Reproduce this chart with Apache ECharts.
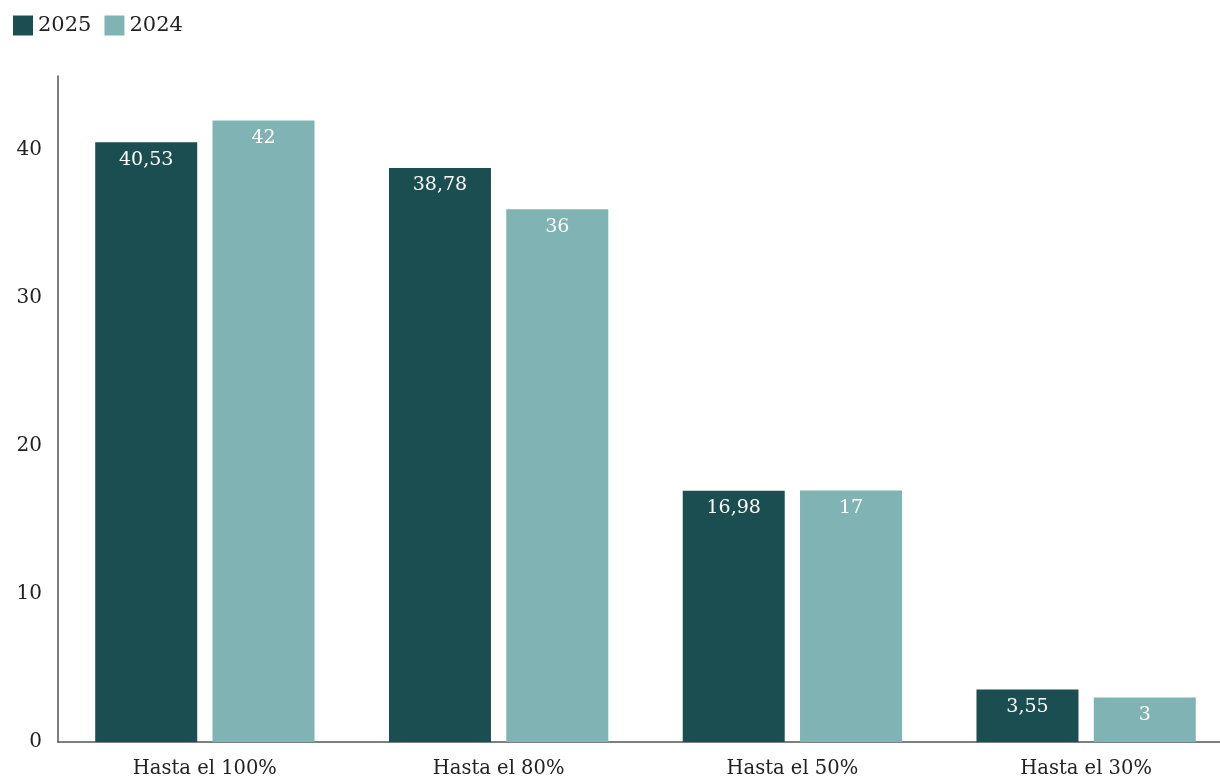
<!DOCTYPE html>
<html><head><meta charset="utf-8">
<script src="https://cdn.jsdelivr.net/npm/echarts@6/dist/echarts.min.js"></script>
<style>html,body{margin:0;padding:0;background:#fff;overflow:hidden}#c{width:1233px;height:779px}</style>
</head><body><div id="c"></div>
<script>
const categories = ['Hasta el 100%', 'Hasta el 80%', 'Hasta el 50%', 'Hasta el 30%'];
const values2025 = [40.53, 38.78, 16.98, 3.55];
const values2024 = [42, 36, 17, 3];
const seriesNames = ['2025', '2024'];

const font = 'DejaVu Serif';
const chart = echarts.init(document.getElementById('c'));
const fmt = p => String(p.value).replace('.', ',');
chart.setOption({
  animation: false,
  textStyle: { fontFamily: font },
  legend: {
    left: 13, top: 15, padding: 0, itemWidth: 20, itemHeight: 20, itemGap: 13,
    textStyle: { fontFamily: font, fontSize: 21, color: '#222' },
    icon: 'rect'
  },
  grid: { left: 58, right: 0, top: 76, bottom: 36, containLabel: false },
  xAxis: {
    type: 'category', data: categories,
    axisLine: { lineStyle: { color: '#555', width: 1.5 } },
    axisTick: { show: false },
    axisLabel: { fontFamily: font, fontSize: 19.5, color: '#222', margin: 17 }
  },
  yAxis: {
    type: 'value', min: 0, max: 45, interval: 10,
    axisLine: { show: true, lineStyle: { color: '#555', width: 1.5 } },
    axisTick: { show: false },
    splitLine: { show: false },
    axisLabel: { fontFamily: font, fontSize: 20, color: '#222', margin: 16, showMaxLabel: false,
      formatter: v => (v % 10 === 0 ? String(v) : '') }
  },
  series: [
    { name: seriesNames[0], type: 'bar', data: values2025, barWidth: 102, barGap: '15%',
      itemStyle: { color: '#1b4e51' },
      label: { show: true, position: 'insideTop', distance: 8, color: '#fff', fontFamily: font, fontSize: 19, formatter: fmt } },
    { name: seriesNames[1], type: 'bar', data: values2024, barWidth: 102,
      itemStyle: { color: '#80b4b4' },
      label: { show: true, position: 'insideTop', distance: 8, color: '#fff', fontFamily: font, fontSize: 19, formatter: fmt } }
  ]
});
</script></body></html>
